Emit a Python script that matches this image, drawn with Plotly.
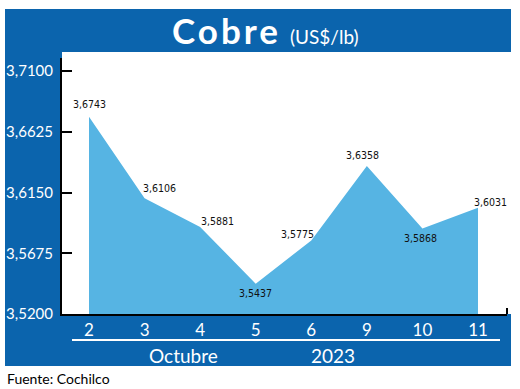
import plotly.graph_objects as go

days = ["2", "3", "4", "5", "6", "9", "10", "11"]
prices = [3.6743, 3.6106, 3.5881, 3.5437, 3.5775, 3.6358, 3.5868, 3.6031]
price_labels = ["3,6743", "3,6106", "3,5881", "3,5437", "3,5775", "3,6358", "3,5868", "3,6031"]
y_ticks = [3.52, 3.5675, 3.615, 3.6625, 3.71]
y_tick_labels = ["3,5200", "3,5675", "3,6150", "3,6625", "3,7100"]
month_label = "Octubre"
year_label = "2023"

W, H = 520, 389
L, R, T, B = 62, 13, 58, 75
PW, PH = W - L - R, H - T - B

def X(px):
    return (px - L) / PW

def Y(py):
    return (H - B - py) / PH

BLUE = "#0b64ad"
FILL = "#56b4e3"
FONT = "Lato, Open Sans, sans-serif"

xs = list(range(len(days)))
fig = go.Figure()
fig.add_trace(go.Scatter(x=xs, y=prices, mode="lines", fill="tozeroy",
                         line=dict(color=FILL, width=0), fillcolor=FILL,
                         hoverinfo="skip"))

offsets = [(0, 13), (15, 10), (17, 6), (0, -9), (-14, 6), (-4, 11), (-2, -9), (13, 6)]
ann = []
for i, (v, lab) in enumerate(zip(prices, price_labels)):
    dx, dy = offsets[i]
    ann.append(dict(x=i, y=v, xref="x", yref="y", text=lab, showarrow=False,
                    xshift=dx, yshift=dy, xanchor="center", yanchor="middle",
                    font=dict(family="DejaVu Sans Condensed, sans-serif",
                              size=10.5, color="#111111")))

def pann(px, py, text, size, color="white", xanchor="center"):
    return dict(x=X(px), y=Y(py), xref="paper", yref="paper", showarrow=False,
                xanchor=xanchor, yanchor="middle", text=text,
                font=dict(family=FONT, size=size, color=color))

ann.append(pann(265, 30, "<b><span style='letter-spacing:3px'>Cobre</span></b>"
                         " <span style='font-size:19px'>(US$/lb)</span>", 35))
ann.append(pann(183, 355, month_label, 19))
ann.append(pann(333, 355, year_label, 19))
ann.append(pann(5, 378, "Fuente: Cochilco", 14, color="black", xanchor="left"))

shapes = [
    dict(type="rect", xref="paper", yref="paper", x0=X(5), x1=X(511), y0=Y(366), y1=Y(9),
         fillcolor=BLUE, line=dict(width=0), layer="below"),
    dict(type="rect", xref="paper", yref="paper", x0=X(62), x1=X(520), y0=Y(314), y1=Y(52),
         fillcolor="white", line=dict(width=0), layer="below"),
    dict(type="line", xref="paper", yref="paper", x0=X(72), x1=X(500), y0=Y(340), y1=Y(340),
         line=dict(color="white", width=2)),
    dict(type="line", xref="paper", yref="paper", x0=X(507), x1=X(507), y0=Y(314), y1=Y(308),
         line=dict(color="black", width=2)),
]

fig.update_layout(
    width=W, height=H, margin=dict(l=L, r=R, t=T, b=B, autoexpand=False),
    paper_bgcolor="white", plot_bgcolor="rgba(0,0,0,0)",
    showlegend=False, annotations=ann, shapes=shapes,
    xaxis=dict(range=[(L - 89) / 55.57, (W - R - 89) / 55.57], tickvals=xs, ticktext=days,
               showgrid=False, zeroline=False, showline=True, linecolor="black", linewidth=2,
               ticks="", tickfont=dict(family=FONT, size=17, color="white"),
               automargin=False, fixedrange=True),
    yaxis=dict(range=[3.52, 3.52 + 0.19 * PH / 243], tickvals=y_ticks, ticktext=y_tick_labels,
               showgrid=False, zeroline=False, showline=True, linecolor="black", linewidth=2,
               ticks="inside", ticklen=10, tickwidth=2, tickcolor="black",
               ticklabelstandoff=4,
               tickfont=dict(family=FONT, size=15, color="white"),
               automargin=False, fixedrange=True),
)

fig.write_html("out.html")
